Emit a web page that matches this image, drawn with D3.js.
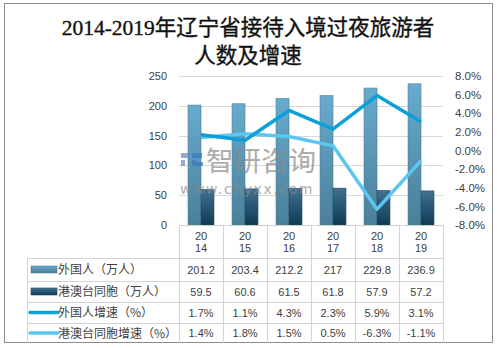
<!DOCTYPE html>
<html><head><meta charset="utf-8">
<script src="https://cdn.jsdelivr.net/npm/d3@7/dist/d3.min.js"></script>
<style>body{margin:0;background:#fff}svg{display:block}</style>
</head><body>
<svg id="c" width="497" height="348"></svg>
<script>
const years = ["2014","2015","2016","2017","2018","2019"];
const foreign = [201.2, 203.4, 212.2, 217, 229.8, 236.9];
const hmt = [59.5, 60.6, 61.5, 61.8, 57.9, 57.2];
const foreignGrowth = [1.7, 1.1, 4.3, 2.3, 5.9, 3.1];
const hmtGrowth = [1.4, 1.8, 1.5, 0.5, -6.3, -1.1];
const leftTicks = [0, 50, 100, 150, 200, 250];
const rightTicks = [-8, -6, -4, -2, 0, 2, 4, 6, 8];
const seriesNames = ["外国人（万人）", "港澳台同胞（万人）", "外国人增速（%）", "港澳台同胞增速（%）"];
const titleLines = ["2014-2019年辽宁省接待入境过夜旅游者", "人数及增速"];

const svg = d3.select("#c");
const numFont = "'Liberation Sans', Arial, sans-serif";
const cjkFont = "'Noto Sans CJK SC', 'Liberation Sans', sans-serif";

const defs = svg.append("defs");
const g1 = defs.append("linearGradient").attr("id","gl").attr("x1",0).attr("y1",0).attr("x2",0).attr("y2",1);
g1.append("stop").attr("offset","0%").attr("stop-color","#68abcf");
g1.append("stop").attr("offset","100%").attr("stop-color","#4a7f98");
const g2 = defs.append("linearGradient").attr("id","gd").attr("x1",0).attr("y1",0).attr("x2",0).attr("y2",1);
g2.append("stop").attr("offset","0%").attr("stop-color","#42718f");
g2.append("stop").attr("offset","100%").attr("stop-color","#0e3a53");

// outer border
svg.append("rect").attr("x",4.5).attr("y",3.5).attr("width",488).attr("height",339)
  .attr("fill","none").attr("stroke","#8c8c8c").attr("stroke-width",1);

// title
svg.selectAll("text.title").data(titleLines).join("text")
  .attr("x",248).attr("y",(d,i)=>35+i*28)
  .attr("text-anchor","middle")
  .attr("font-family","'Liberation Serif', 'Noto Sans CJK SC', serif")
  .attr("font-size",21.5).attr("fill","#111")
  .attr("stroke","#111").attr("stroke-width",0.35)
  .text(d=>d);

const plotL = 179, plotR = 443, plotT = 76, plotB = 225;
const x = d3.scaleBand().domain(years).range([plotL, plotR]).padding(0);
const y = d3.scaleLinear().domain([0,250]).range([plotB, plotT]);
const y2 = d3.scaleLinear().domain([-8,8]).range([plotB, plotT]);
const bw = x.bandwidth()*0.295;

// gridlines
svg.append("g").selectAll("line").data(leftTicks).join("line")
  .attr("x1",plotL).attr("x2",plotR)
  .attr("y1",d=>Math.round(y(d))+0.5).attr("y2",d=>Math.round(y(d))+0.5)
  .attr("stroke","#d9d9d9");

// left axis
const la = svg.append("g").attr("transform",`translate(${plotL-12},0)`)
  .call(d3.axisLeft(y).tickValues(leftTicks).tickSize(0).tickPadding(0));
la.select(".domain").remove();
la.selectAll("text").attr("font-family",numFont).attr("font-size",11).attr("fill","#404040");

// right axis
const ra = svg.append("g").attr("transform",`translate(455,0)`)
  .call(d3.axisRight(y2).tickValues(rightTicks).tickSize(0).tickPadding(0).tickFormat(d=>d.toFixed(1)+"%"));
ra.select(".domain").remove();
ra.selectAll("text").attr("font-family",numFont).attr("font-size",11.5).attr("fill","#404040");

// bars
const cx = d => x(d) + x.bandwidth()/2;
svg.append("g").selectAll("rect").data(years).join("rect")
  .attr("x",d=>cx(d)-bw).attr("width",bw)
  .attr("y",(d,i)=>y(foreign[i])).attr("height",(d,i)=>plotB-y(foreign[i]))
  .attr("fill","url(#gl)").attr("stroke","#4c7d96").attr("stroke-width",0.6);
svg.append("g").selectAll("rect").data(years).join("rect")
  .attr("x",d=>cx(d)).attr("width",bw)
  .attr("y",(d,i)=>y(hmt[i])).attr("height",(d,i)=>plotB-y(hmt[i]))
  .attr("fill","url(#gd)").attr("stroke","#1d4a64").attr("stroke-width",0.6);

// lines
const line = d3.line().x((d,i)=>cx(years[i])).y(d=>y2(d));
svg.append("path").datum(hmtGrowth).attr("d",line).attr("fill","none")
  .attr("stroke","#5cc6f0").attr("stroke-width",3.5).attr("stroke-linejoin","round");
svg.append("path").datum(foreignGrowth).attr("d",line).attr("fill","none")
  .attr("stroke","#0c9fd8").attr("stroke-width",3.5).attr("stroke-linejoin","round");

// watermark
const wm = svg.append("g").attr("opacity",0.7);
wm.append("rect").attr("x",181).attr("y",153).attr("width",9).attr("height",5).attr("fill","#6d86b8");
wm.append("rect").attr("x",181).attr("y",160).attr("width",4).attr("height",6).attr("fill","#6d86b8");
wm.append("rect").attr("x",192).attr("y",153).attr("width",10).attr("height",5).attr("fill","#3a78c0");
wm.append("rect").attr("x",192).attr("y",160).attr("width",4).attr("height",6).attr("fill","#3a78c0");
wm.append("rect").attr("x",196).attr("y",162).attr("width",7).attr("height",4).attr("fill","#3a78c0");
wm.append("text").attr("x",206).attr("y",171).attr("font-family",cjkFont).attr("font-size",27.5)
  .attr("fill","#8a8a8a").text("智研咨询");
wm.append("text").attr("x",180).attr("y",194).attr("font-family","'DejaVu Sans', sans-serif").attr("font-size",14)
  .attr("letter-spacing",1.6).attr("fill","#8a8a8a").text("www.chyxx.com");

// table
const tL = 27, rowY = [225, 258, 281, 302, 323, 343];
const tg = svg.append("g").attr("stroke","#d4d4d4").attr("stroke-width",1);
tg.append("line").attr("x1",plotL).attr("x2",plotR).attr("y1",225.5).attr("y2",225.5).attr("stroke","#d0d0d0");
rowY.slice(1,5).forEach(yy=>{
  tg.append("line").attr("x1",tL).attr("x2",plotR).attr("y1",yy+0.5).attr("y2",yy+0.5);
});
const bounds = years.map(d=>x(d)).concat([plotR]);
bounds.forEach(bx=>{
  tg.append("line").attr("x1",Math.round(bx)+0.5).attr("x2",Math.round(bx)+0.5).attr("y1",225).attr("y2",343);
});
tg.append("line").attr("x1",tL+0.5).attr("x2",tL+0.5).attr("y1",258).attr("y2",343);

// year header
years.forEach(yr=>{
  svg.append("text").attr("x",cx(yr)).attr("y",240).attr("text-anchor","middle")
    .attr("font-family",numFont).attr("font-size",11).attr("fill","#404040").text(yr.slice(0,2));
  svg.append("text").attr("x",cx(yr)).attr("y",252).attr("text-anchor","middle")
    .attr("font-family",numFont).attr("font-size",11).attr("fill","#404040").text(yr.slice(2));
});

const rows = [
  foreign.map(v=>String(v)),
  hmt.map(v=>String(v)),
  foreignGrowth.map(v=>v.toFixed(1)+"%"),
  hmtGrowth.map(v=>v.toFixed(1)+"%")
];
rows.forEach((vals,r)=>{
  const mid = (rowY[r+1]+rowY[r+2])/2;
  vals.forEach((v,i)=>{
    svg.append("text").attr("x",cx(years[i])).attr("y",mid+4).attr("text-anchor","middle")
      .attr("font-family",numFont).attr("font-size",11).attr("fill","#404040").text(v);
  });
  svg.append("text").attr("x",58).attr("y",mid+4.5)
    .attr("font-family",cjkFont).attr("font-size",12).attr("fill","#404040").text(seriesNames[r]);
  if (r<2) {
    svg.append("rect").attr("x",31).attr("y",mid-3.5).attr("width",26).attr("height",7)
      .attr("fill", r===0 ? "url(#gl)" : "url(#gd)")
      .attr("stroke", r===0 ? "#4c7d96" : "#1d4a64").attr("stroke-width",0.6);
  } else {
    svg.append("line").attr("x1",30).attr("x2",58).attr("y1",mid).attr("y2",mid)
      .attr("stroke", r===2 ? "#0c9fd8" : "#5cc6f0").attr("stroke-width",3.5).attr("stroke-linecap","round");
  }
});
</script>
</body></html>
